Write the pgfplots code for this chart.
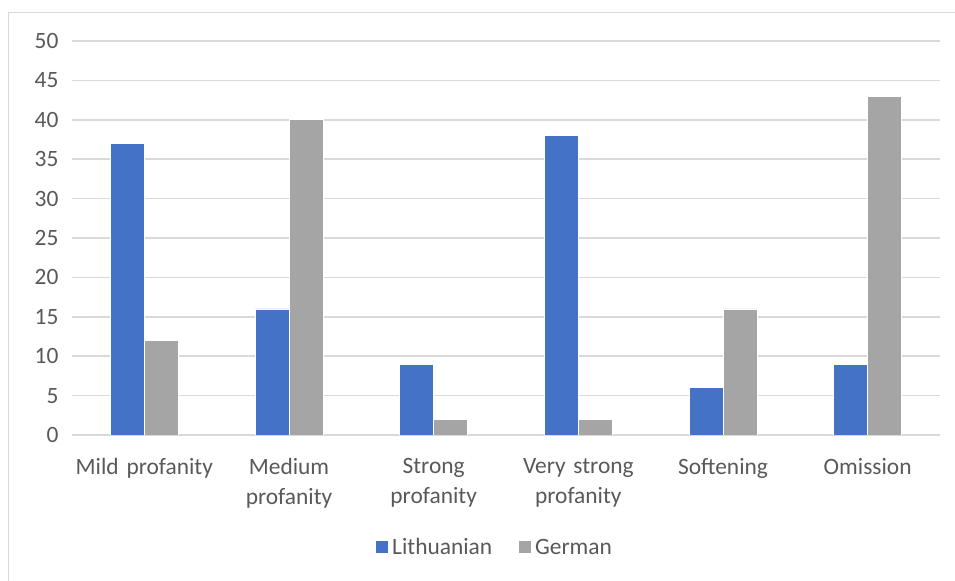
\documentclass[border=0pt]{standalone}
\usepackage{pgfplots}
\pgfplotsset{compat=1.18}
\usepackage{fontspec}
\setmainfont{Carlito}
\definecolor{lit}{HTML}{4472C4}
\definecolor{ger}{HTML}{A5A5A5}
\definecolor{gridc}{HTML}{D9D9D9}
\definecolor{txt}{HTML}{595959}
\begin{document}
\begin{tikzpicture}[x=1bp,y=1bp]
% page area and chart frame
\path[use as bounding box] (0,0) rectangle (955,581);
\draw[gridc, line width=1.5bp] (8.5,0) -- (8.5,568.5) -- (955,568.5);
\begin{axis}[
  at={(72bp,146bp)}, anchor=south west,
  scale only axis, width=868bp, height=394bp,
  xmin=-0.5, xmax=5.5, ymin=0, ymax=50,
  ybar, bar width=34bp,
  ytick={0,5,...,50},
  xtick=data,
  xticklabels={Mild profanity,{Medium\\profanity},{Strong\\profanity},{Very strong\\profanity},Softening,Omission},
  xticklabel style={align=center, text width=170bp, yshift=-20bp},
  every tick label/.append style={font=\fontsize{23.5}{30}\selectfont, text=txt},
  yticklabel style={xshift=-10bp},
  /pgf/number format/assume math mode=true,
  ymajorgrids, grid style={gridc, line width=1.5bp},
  axis x line*=bottom, axis y line*=left,
  x axis line style={gridc, line width=1.5bp, -},
  y axis line style={draw=none},
  major tick length=0pt,
  legend style={at={(0.4875,-0.252)}, anchor=north, draw=none, legend columns=2,
    font=\fontsize{23.5}{28}\selectfont, text=txt,
    /tikz/every even column/.append style={column sep=22bp},
    nodes={inner xsep=3.5bp}},
  legend image code/.code={\fill[#1] (-4bp,-6.5bp) rectangle (9bp,6.5bp);},
]
\addplot[fill=lit, draw=white, line width=0.8bp, bar shift=-17bp] coordinates {(0,37) (1,16) (2,9) (3,38) (4,6) (5,9)};
\addplot[fill=ger, draw=white, line width=0.8bp, bar shift=17bp] coordinates {(0,12) (1,40) (2,2) (3,2) (4,16) (5,43)};
\legend{Lithuanian, German}
\end{axis}
\end{tikzpicture}
\end{document}
